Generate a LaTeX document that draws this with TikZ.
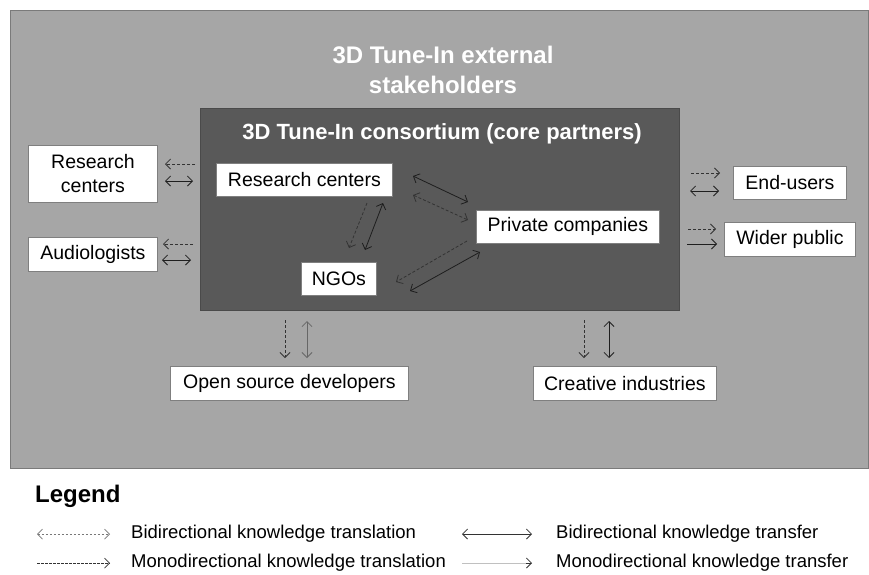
\documentclass[tikz,border=0pt]{standalone}
\usepackage{fontspec}
\setmainfont{Liberation Sans}
\usetikzlibrary{arrows.meta}
\definecolor{outergray}{HTML}{A6A6A6}
\definecolor{outeredge}{HTML}{7A7A7A}
\definecolor{coregray}{HTML}{595959}
\definecolor{coreedge}{HTML}{4A4A4A}
\definecolor{edgegray}{HTML}{7F7F7F}
\definecolor{arrowdark}{HTML}{1E1E1E}
\definecolor{dashdark}{HTML}{333333}
\definecolor{lightline}{HTML}{C0C0C0}
\definecolor{legenddash}{HTML}{777777}
\begin{document}
\begin{tikzpicture}[x=1pt,y=-1pt,
  >={Straight Barb[length=5pt,width=10pt]},
  wbox/.style={draw=edgegray, line width=0.8pt, fill=white, inner sep=0pt,
    font=\fontsize{19.5}{24}\selectfont, align=center, anchor=north west},
  solidarr/.style={draw=arrowdark, line width=0.8pt},
  dasharr/.style={draw=dashdark, line width=0.8pt, dash pattern=on 3pt off 2pt},
  titletext/.style={text=white, font=\bfseries\fontsize{24}{30}\selectfont, align=center},
  coretext/.style={text=white, font=\bfseries\fontsize{22}{26}\selectfont},
  legtext/.style={font=\fontsize{18.5}{22}\selectfont, anchor=west, inner sep=0pt},
]
\useasboundingbox (0,0) rectangle (869,574);
\fill[white] (0,0) rectangle (869,574);

% outer area
\draw[fill=outergray, draw=outeredge, line width=0.8pt] (10,10) rectangle (868,468);
\node[titletext] (ttl) at (443,70) {3D Tune-In external\\stakeholders};

% core box
\draw[fill=coregray, draw=coreedge, line width=0.8pt] (200,108) rectangle (679,310);
\node[coretext] (ctl) at (442,134) {3D Tune-In consortium (core partners)};

% inner nodes
\node[wbox, minimum width=176, minimum height=33] (rc) at (216,163) {Research centers};
\node[wbox, minimum width=183, minimum height=33] (pc) at (476,210) {Private companies};
\node[wbox, minimum width=75, minimum height=33] (ngo) at (301,262) {NGOs};

% outer nodes
\node[wbox, minimum width=129, minimum height=57] (orc) at (28,145) {Research\\centers};
\node[wbox, minimum width=129, minimum height=34] (aud) at (28,237) {Audiologists};
\node[wbox, minimum width=113, minimum height=33] (eu) at (733,166) {End-users};
\node[wbox, minimum width=131, minimum height=34] (wp) at (724,222) {Wider public};
\node[wbox, minimum width=238, minimum height=34] (osd) at (170,366) {Open source developers};
\node[wbox, minimum width=183, minimum height=34] (ci) at (533,366) {Creative industries};

% inner connectors
\coordinate (a1) at (413,176); \coordinate (a2) at (468,202);
\coordinate (b1) at (413,195); \coordinate (b2) at (468,220);
\coordinate (c1) at (367,203); \coordinate (c2) at (349,248);
\coordinate (d1) at (383,203); \coordinate (d2) at (365,250);
\coordinate (e1) at (467,241); \coordinate (e2) at (396,282);
\coordinate (f1) at (480,252); \coordinate (f2) at (410,291);
\draw[solidarr,<->] (a1) -- (a2);
\draw[dasharr,<->] (b1) -- (b2);
\draw[dasharr,->] (c1) -- (c2);
\draw[solidarr,<->] (d1) -- (d2);
\draw[dasharr,->] (e1) -- (e2);
\draw[solidarr,<->] (f1) -- (f2);

% left connectors
\coordinate (g1) at (195,164); \coordinate (g2) at (165,164);
\coordinate (h1) at (165,181); \coordinate (h2) at (193,181);
\coordinate (i1) at (193,244); \coordinate (i2) at (163,244);
\coordinate (j1) at (162,260); \coordinate (j2) at (191,260);
\draw[dasharr,->] (g1) -- (g2);
\draw[solidarr,<->] (h1) -- (h2);
\draw[dasharr,->] (i1) -- (i2);
\draw[solidarr,<->] (j1) -- (j2);

% right connectors
\coordinate (k1) at (691,173); \coordinate (k2) at (720,173);
\coordinate (l1) at (690,191); \coordinate (l2) at (719,191);
\coordinate (m1) at (688,229); \coordinate (m2) at (716,229);
\coordinate (n1) at (687,244); \coordinate (n2) at (717,244);
\draw[dasharr,->] (k1) -- (k2);
\draw[solidarr,<->] (l1) -- (l2);
\draw[dasharr,->] (m1) -- (m2);
\draw[solidarr,->] (n1) -- (n2);

% bottom connectors
\coordinate (o1) at (285,320); \coordinate (o2) at (285,358);
\coordinate (p1) at (307,321); \coordinate (p2) at (307,358);
\coordinate (q1) at (584,320); \coordinate (q2) at (584,358);
\coordinate (r1) at (609,321); \coordinate (r2) at (609,358);
\draw[dasharr,->] (o1) -- (o2);
\draw[solidarr,<->,draw=gray!80!black] (p1) -- (p2);
\draw[dasharr,->] (q1) -- (q2);
\draw[solidarr,<->] (r1) -- (r2);

% legend
\node[font=\bfseries\fontsize{24}{28}\selectfont, anchor=west, inner sep=0pt] (leg) at (35,496) {Legend};
\coordinate (s1) at (37,534); \coordinate (s2) at (110,534);
\coordinate (t1) at (37,563); \coordinate (t2) at (110,563);
\coordinate (u1) at (462,534); \coordinate (u2) at (532,534);
\coordinate (v1) at (462,563); \coordinate (v2) at (532,563);
\coordinate (v3) at (526,563);
\draw[draw=legenddash, line width=0.7pt, dash pattern=on 2.5pt off 1.5pt, <->] (s1) -- (s2);
\draw[draw=dashdark, line width=0.7pt, dash pattern=on 2.5pt off 1.5pt, ->] (t1) -- (t2);
\draw[draw=dashdark, line width=0.8pt, <->] (u1) -- (u2);
\draw[draw=lightline, line width=1pt] (v1) -- (v2);
\draw[draw=dashdark, line width=0.8pt, ->] (v3) -- (v2);
\node[legtext] (l1t) at (131,534) {Bidirectional knowledge translation};
\node[legtext] (l2t) at (131,563) {Monodirectional knowledge translation};
\node[legtext] (l3t) at (556,534) {Bidirectional knowledge transfer};
\node[legtext] (l4t) at (556,563) {Monodirectional knowledge transfer};
\end{tikzpicture}
\end{document}
